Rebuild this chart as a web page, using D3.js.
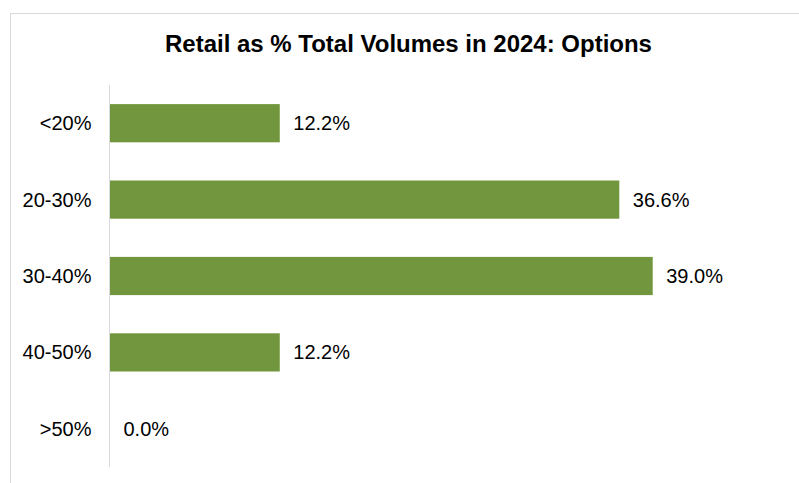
<!DOCTYPE html>
<html>
<head>
<meta charset="utf-8">
<script src="https://cdn.jsdelivr.net/npm/d3@7"></script>
<style>
  html, body { margin: 0; padding: 0; background: #fff; }
  svg { display: block; font-family: "Liberation Sans", Arial, sans-serif; }
</style>
</head>
<body>
<svg id="chart" width="799" height="483"></svg>
<script>
// Share of options volume traded by retail, bucketed by firm
const categories = ["<20%", "20-30%", "30-40%", "40-50%", ">50%"];
const values = [12.2, 36.6, 39.0, 12.2, 0.0];
const title = "Retail as % Total Volumes in 2024: Options";

const W = 799, H = 483;
const svg = d3.select("#chart");
const labelSize = 20;

// outer chart frame (runs off the right and bottom edges)
svg.append("rect")
  .attr("x", 10.5).attr("y", 13.5)
  .attr("width", 820).attr("height", 500)
  .attr("fill", "#fff")
  .attr("stroke", "#d9d9d9")
  .attr("stroke-width", 1);

// title, sized to its measured width
const titleText = svg.append("text")
  .attr("x", 408.5).attr("y", 51.5)
  .attr("text-anchor", "middle")
  .attr("font-weight", "bold")
  .attr("font-size", 21.3)
  .attr("fill", "#000")
  .text(title);
const tw = titleText.node().getComputedTextLength();
if (tw > 0) titleText.attr("font-size", 21.3 * 487 / tw);

const plotLeft = 110, plotTop = 85, plotBottom = 467;

const x = d3.scaleLinear().domain([0, 45]).range([plotLeft, plotLeft + 626.2]);
const y = d3.scaleBand()
  .domain(categories)
  .range([plotTop, plotBottom])
  .paddingInner(0.5)
  .paddingOuter(0.25);

// bars
svg.append("g")
  .selectAll("rect")
  .data(categories)
  .join("rect")
  .attr("x", x(0))
  .attr("y", d => y(d))
  .attr("width", (d, i) => x(values[i]) - x(0))
  .attr("height", y.bandwidth())
  .attr("fill", "#72963d");

// category axis
const yAxis = svg.append("g")
  .attr("transform", `translate(${plotLeft - 0.5},0)`)
  .call(d3.axisLeft(y).tickSize(0).tickPadding(18).tickSizeOuter(0));
yAxis.select(".domain")
  .attr("stroke", "#d9d9d9")
  .attr("d", `M0,${plotTop}V${plotBottom}`);
yAxis.selectAll("text")
  .attr("font-size", labelSize)
  .attr("font-family", "Liberation Sans, Arial, sans-serif")
  .attr("fill", "#000")
  .attr("dy", "0.35em");

// value labels
svg.append("g")
  .selectAll("text")
  .data(categories)
  .join("text")
  .attr("x", (d, i) => x(values[i]) + 13.5)
  .attr("y", d => y(d) + y.bandwidth() / 2)
  .attr("dy", "0.35em")
  .attr("font-size", labelSize)
  .attr("fill", "#000")
  .text((d, i) => values[i].toFixed(1) + "%");
</script>
</body>
</html>
